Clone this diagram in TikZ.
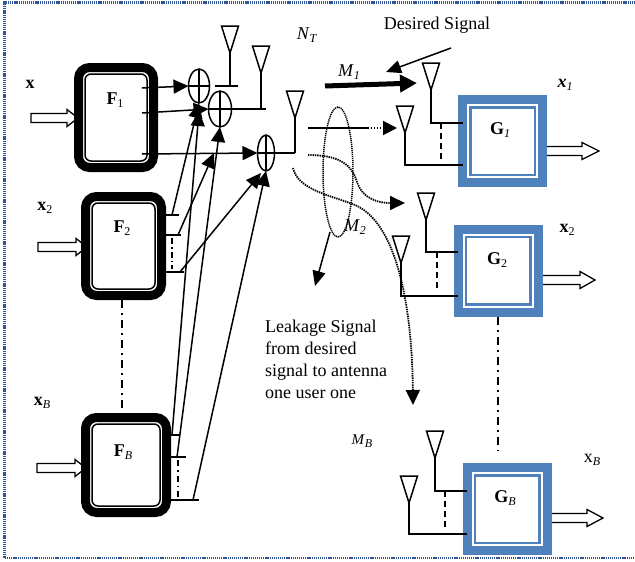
\documentclass[tikz,border=0pt]{standalone}
\usepackage{fontspec}
\setmainfont{Liberation Serif}
\usetikzlibrary{shapes.geometric,arrows.meta}
\definecolor{gblue}{RGB}{79,129,189}
\definecolor{bord}{RGB}{47,85,151}
\newcommand\lbl{\fontsize{18}{22}\selectfont}
\newcommand\sbs[1]{\raisebox{-0.35ex}{\fontsize{12}{12}\selectfont #1}}
\newcommand\harrow[4]{%
  \draw[line width=1.3pt,fill=white] ({#1},{#3-4.5}) -- ({#2-#4},{#3-4.5}) -- ({#2-#4},{#3-8.5}) -- ({#2},{#3}) -- ({#2-#4},{#3+8.5}) -- ({#2-#4},{#3+4.5}) -- ({#1},{#3+4.5}) -- cycle;}
\newcommand\antenna[1]{\draw[line width=1.5pt] (#1) -- ++(-8.5,-27) -- ++(17,0) -- cycle;}
\begin{document}
\begin{tikzpicture}[x=1pt,y=-1pt,
  ln/.style={line width=1.5pt},
  tipA/.style={-{Triangle[length=15pt,width=14pt]}},
  fbox/.style={draw,line width=9pt,rounded corners=11pt,outer sep=0pt,inner sep=0pt},
  gbox/.style={draw=gblue,line width=9pt,outer sep=0pt,inner sep=0pt,minimum width=80,minimum height=83},
  adder/.style={draw,ellipse,line width=1.5pt,inner sep=0pt,outer sep=0pt},
  txt/.style={font=\lbl,inner sep=0pt},
  dashdot/.style={line width=1.5pt,dash pattern=on 8pt off 5pt on 2pt off 5pt},
  dsh/.style={line width=1.5pt,dash pattern=on 6pt off 4pt},
  dotc/.style={line width=1.8pt,dash pattern=on 1.4pt off 0.9pt,-{Triangle[length=15pt,width=14pt]}}
]
\useasboundingbox (0,0) rectangle (635,562);
\fill[white] (0,0) rectangle (635,562);
% border
\draw[bord,line width=2.4pt,dash pattern=on 1.2pt off 0.9pt] (635,2.5) -- (4.5,2.5) -- (4.5,558) -- (635,558);

% input / output hollow arrows (drawn first, boxes overlay them)
\harrow{31}{78}{118}{11}
\harrow{38}{87}{247}{11}
\harrow{37}{86}{468}{11}
\harrow{541}{599}{151}{17}
\harrow{536}{595}{280}{15}
\harrow{545}{603}{518}{16}

% transmitter boxes
\node[fbox,minimum width=75,minimum height=100] (F1) at (116,117.5) {};
\node[fbox,minimum width=76,minimum height=99] (F2) at (123.5,246) {};
\node[fbox,minimum width=81,minimum height=95] (FB) at (126,465) {};
\foreach \b in {F1,F2,FB}{
  \draw[line width=1.5pt,rounded corners=6pt] ([shift={(6.5,6.5)}]\b.north west) rectangle ([shift={(-6.5,-6.5)}]\b.south east);}
\node[txt] (F1t) at (115,100) {\textbf{F}\sbs{1}};
\node[txt] (F2t) at (122,228) {\textbf{F}\sbs{2}};
\node[txt] (FBt) at (123,452) {\textbf{F}\sbs{\textit{B}}};
\node[txt] (xin1) at (30,84) {\textbf{x}};
\node[txt] (xin2) at (45,208) {\textbf{x}\sbs{2}};
\node[txt] (xinB) at (42,403) {\textbf{x}\sbs{\textit{B}}};
\draw[dashdot] (122,300) -- (122,413);

% receiver boxes
\node[gbox] (G1) at (502.5,141) {};
\node[gbox] (G2) at (498,270.5) {};
\node[gbox] (GB) at (507,509) {};
\foreach \b in {G1,G2,GB}{
  \draw[gblue,line width=2.5pt] ([shift={(7.75,7.75)}]\b.north west) rectangle ([shift={(-7.75,-7.75)}]\b.south east);}
\node[txt] (G1t) at (500,130) {\textbf{G}\sbs{\textit{1}}};
\node[txt] (G2t) at (497,260) {\textbf{G}\sbs{2}};
\node[txt] (GBt) at (505,498) {\textbf{G}\sbs{\textit{B}}};
\node[txt] (xo1) at (565,85) {\textbf{\textit{x}}\sbs{\textit{1}}};
\node[txt] (xo2) at (567,230) {\textbf{x}\sbs{2}};
\node[txt] (xoB) at (592,460) {x\sbs{\textit{B}}};
\coordinate (gdots) at (498,450);
\draw[dashdot] ([yshift=-4.5pt]G2.south) -- (gdots);

% adders
\node[adder,minimum width=21,minimum height=34] (ad1) at (199,86) {};
\node[adder,minimum width=23,minimum height=36] (ad2) at (220,109) {};
\node[adder,minimum width=17,minimum height=36] (ad3) at (266,153) {};
\foreach \a in {ad1,ad2,ad3}{
  \draw[ln] (\a.north) -- (\a.south) (\a.west) -- (\a.east);}

% transmitter antennas
\coordinate (tA) at (230,53);
\coordinate (tB) at (261,73);
\coordinate (tC) at (295,118);
\antenna{tA}\antenna{tB}\antenna{tC}
\draw[ln] ([xshift=5pt]ad1.east) -- ++(23,0);
\draw[ln] (tA) -- (tA |- ad1.east);
\draw[ln] (ad2.east) -- ++(34,0);
\draw[ln] (tB) -- (tB |- ad2.east);
\draw[ln] (ad3.east) -- (tC |- ad3.east);
\draw[ln] (tC) -- (tC |- ad3.east);

% F1 outputs
\coordinate (f1a) at (142,88);
\coordinate (f1b) at (142,113);
\coordinate (f1c) at (142,154);
\draw[ln,tipA] (f1a) -- (ad1.west);
\draw[ln,tipA] (f1b) -- (ad2.west);
\draw[ln,tipA] (f1c) -- (ad3.west);

% F2 stubs
\coordinate (f2a) at (172,215);
\coordinate (f2b) at (178,235);
\coordinate (f2c) at (180,272);
\draw[ln] (F2.east |- f2a) -- ++(17,0);
\draw[ln] (F2.east |- f2b) -- ++(19,0);
\draw[ln] (F2.east |- f2c) -- ++(22,0);
\draw[ln,dash pattern=on 6pt off 3pt on 1.5pt off 3pt] (172,238) -- (172,269);
% FB stubs
\coordinate (fba) at (172,435);
\coordinate (fbb) at (177,457);
\coordinate (fbc) at (193,500);
\draw[ln] (FB.east |- fba) -- ++(12,0);
\draw[ln] (FB.east |- fbb) -- ++(19,0);
\draw[ln] (FB.east |- fbc) -- ++(32,0);
\draw[ln,dash pattern=on 6pt off 4pt on 1.5pt off 4pt] (178,460) -- (178,497);

% feed lines to adders
\draw[ln,tipA] (f2a) -- (ad1.south);
\draw[ln,tipA] (fba) -- ([yshift=-8pt]ad1.south);
\draw[ln,tipA] (f2b) -- ([shift={(-6,26)}]ad2.south);
\draw[ln,tipA] (fbb) -- (ad2.south);
\draw[ln,tipA] (f2c) -- ([shift={(-5,2)}]ad3.south);
\draw[ln,tipA] (fbc) -- (ad3.south);

% receiver antennas G1
\coordinate (r1a) at (431,90);
\coordinate (r1b) at (405,133);
\antenna{r1a}\antenna{r1b}
\draw[ln] (r1a) |- ([yshift=18pt]G1.west);
\draw[ln] (r1b) |- ([yshift=-24pt]G1.west);
\draw[dsh] (441,123) -- (441,160);
% G2
\coordinate (r2a) at (426,220);
\coordinate (r2b) at (401,263);
\antenna{r2a}\antenna{r2b}
\draw[ln] (r2a) |- ([yshift=18.5pt]G2.west);
\draw[ln] (r2b) |- ([yshift=-25.5pt]G2.west);
\draw[dsh] (437,252) -- (437,289);
% GB
\coordinate (rBa) at (435,458);
\coordinate (rBb) at (409,503);
\antenna{rBa}\antenna{rBb}
\draw[ln] (rBa) |- ([yshift=18pt]GB.west);
\draw[ln] (rBb) |- ([yshift=-25pt]GB.west);
\draw[dsh] (445,491) -- (445,527);

% labels top
\node[txt] (NT) at (307,35) {\textit{N}\sbs{\textit{T}}};
\node[txt] (dsig) at (437,25) {Desired Signal};
\node[txt] (M1) at (349,72) {\textit{M}\sbs{\textit{1}}};
\node[txt] (M2) at (355,227) {\textit{M}\sbs{\textit{2}}};
\node[txt,font=\fontsize{15}{15}\selectfont] (MB) at (362,441) {\textit{M}\sbs{\textit{B}}};
\node[txt,align=left,anchor=north west] (leak) at (265,320) {Leakage Signal\\from desired\\signal to antenna\\one user one};

% desired signal pointer
\coordinate (ds1) at (451,48);
\coordinate (ds2) at (386,72);
\draw[ln,-{Triangle[length=15pt,width=13pt]}] (ds1) -- (ds2);
% M1 thick arrow
\coordinate (m1a) at (325,86);
\coordinate (m1b) at (417,83);
\draw[line width=5pt,-{Triangle[length=17pt,width=17pt]}] (m1a) -- (m1b);
% line to G1 lower antenna
\coordinate (la) at (308,128);
\coordinate (lb) at (368,128);
\coordinate (lc) at (397,128);
\draw[line width=2.5pt] (la) -- (lb);
\draw[line width=2pt,dash pattern=on 1pt off 2pt,-{Triangle[length=14pt,width=14pt]}] (lb) -- (lc);
% ellipse M2
\draw[line width=1.5pt,dash pattern=on 1.2pt off 0.8pt] (338,172) ellipse (15 and 65);
\fill (338,128) circle (1);
% dotted curves
\coordinate (c1s) at (308,155);
\coordinate (c1e) at (405,203);
\draw[dotc] (c1s) .. controls (340,155) and (352,165) .. (357,182) .. controls (363,200) and (380,203) .. (c1e);
\coordinate (c2s) at (293,168);
\coordinate (c2e) at (413,405);
\draw[dotc] (c2s) .. controls (298,190) and (330,195) .. (355,205) .. controls (395,222) and (412,300) .. (c2e);
% M2 arrow
\coordinate (ma) at (330,232);
\coordinate (mb) at (315,286);
\draw[ln,-{Triangle[length=15pt,width=13pt]}] (ma) -- (mb);
\end{tikzpicture}
\end{document}
